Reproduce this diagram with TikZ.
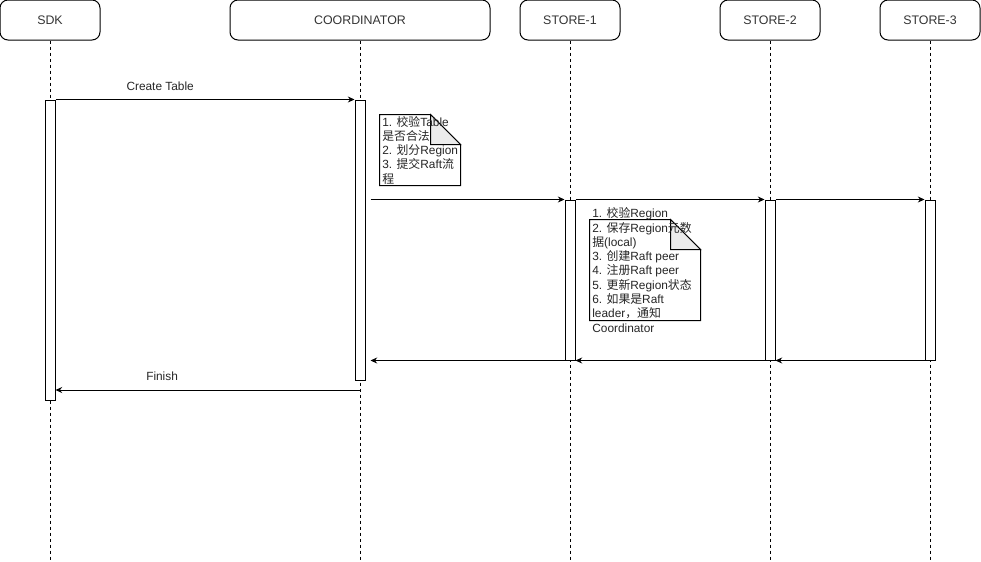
\documentclass[tikz,border=0pt]{standalone}
\usepackage{fontspec}
\setmainfont{Liberation Sans}
\newfontfamily\cjk{Noto Sans CJK SC}
\usepackage{tikz}
\usetikzlibrary{positioning, arrows.meta, calc}

\begin{document}
\begin{tikzpicture}[x=0.75pt, y=-0.75pt, line width=0.75pt]

% Define styles
\tikzstyle{head} = [rectangle, draw, rounded corners=6pt, minimum width=75pt, minimum height=30pt, text=black!80, font=\fontsize{9.3}{11}\selectfont]
\tikzstyle{bar} = [rectangle, draw, fill=white, minimum width=7.5pt, inner sep=0pt]
\tikzstyle{life} = [dash pattern=on 2.25pt off 2.25pt]
\tikzstyle{arrow} = [-{Stealth[length=5pt, width=4.5pt]}]
\tikzstyle{msg} = [font=\fontsize{8.9}{10}\selectfont, text=black!85]
\tikzstyle{notebox} = [rectangle, inner sep=0pt]
\tikzstyle{notetext} = [anchor=west, inner sep=1pt, align=left, text=black!85, font=\fontsize{8.9}{10.7}\selectfont]
\tikzstyle{fold} = [fill=black!8]

\useasboundingbox (0,0) rectangle (981,561);

% Participants
\node [head] (sdk) at (50,20) {SDK};
\node [head, minimum width=195pt] (coord) at (360,20) {COORDINATOR};
\node [head] (store1) at (570,20) {STORE-1};
\node [head] (store2) at (770,20) {STORE-2};
\node [head] (store3) at (930,20) {STORE-3};

% Lifelines
\foreach \p in {sdk, coord, store1, store2, store3}
  \draw [life] (\p.south) -- (\p.south |- 0,561);

% Activations
\node [bar, minimum height=225pt] (sdkact) at (50,250) {};
\node [bar, minimum height=210pt] (coordact) at (360,240) {};
\node [bar, minimum height=120pt] (s1act) at (570,280) {};
\node [bar, minimum height=120pt] (s2act) at (770,280) {};
\node [bar, minimum height=120pt] (s3act) at (930,280) {};

% Create table
\draw [arrow] (sdkact.north east) -- node [msg, above=3pt, pos=0.35] {Create Table} (coordact.north west);

% Note on coordinator
\node [notebox, minimum width=60pt, minimum height=52.5pt] (note1) at (420,150) {};
\draw [fill=white] (note1.north west) -- ($(note1.north east)+(-30,0)$) -- ($(note1.north east)+(0,30)$) -- (note1.south east) -- (note1.south west) -- cycle;
\draw [fold] ($(note1.north east)+(-30,0)$) -- ($(note1.north east)+(-30,30)$) -- ($(note1.north east)+(0,30)$) -- cycle;
\node [notetext] at ($(note1.west)+(1,0)$) {1. {\cjk 校验}Table\\{\cjk 是否合法}\\2. {\cjk 划分}Region\\3. {\cjk 提交}Raft{\cjk 流}\\{\cjk 程}};

% Coordinator to stores
\coordinate (coordout) at ($(coordact.east |- s1act.north)+(5,0)$);
\draw [arrow] (coordout) -- (s1act.north west);
\draw [arrow] (s1act.north east) -- (s2act.north west);
\draw [arrow] (s2act.north east) -- (s3act.north west);

% Note on store
\node [notebox, minimum width=82.5pt, minimum height=75pt] (note2) at (645,270) {};
\draw [fill=white] (note2.north west) -- ($(note2.north east)+(-30,0)$) -- ($(note2.north east)+(0,30)$) -- (note2.south east) -- (note2.south west) -- cycle;
\draw [fold] ($(note2.north east)+(-30,0)$) -- ($(note2.north east)+(-30,30)$) -- ($(note2.north east)+(0,30)$) -- cycle;
\node [notetext] at ($(note2.west)+(1,0)$) {1. {\cjk 校验}Region\\2. {\cjk 保存}Region{\cjk 元数}\\{\cjk 据}(local)\\3. {\cjk 创建}Raft peer\\4. {\cjk 注册}Raft peer\\5. {\cjk 更新}Region{\cjk 状态}\\6. {\cjk 如果是}Raft\\leader{\cjk ，通知}\\Coordinator};

% Replies
\coordinate (coordin) at ($(coordact.east |- s1act.south)+(5,0)$);
\draw [arrow] (s3act.south west) -- (s2act.south east);
\draw [arrow] (s2act.south west) -- (s1act.south east);
\draw [arrow] (s1act.south west) -- (coordin);

% Finish
\coordinate (coordend) at (coordact.center |- 0,390);
\draw [arrow] (coordend) -- node [msg, above=3pt, pos=0.65] {Finish} (sdkact.east |- coordend);

\end{tikzpicture}
\end{document}
